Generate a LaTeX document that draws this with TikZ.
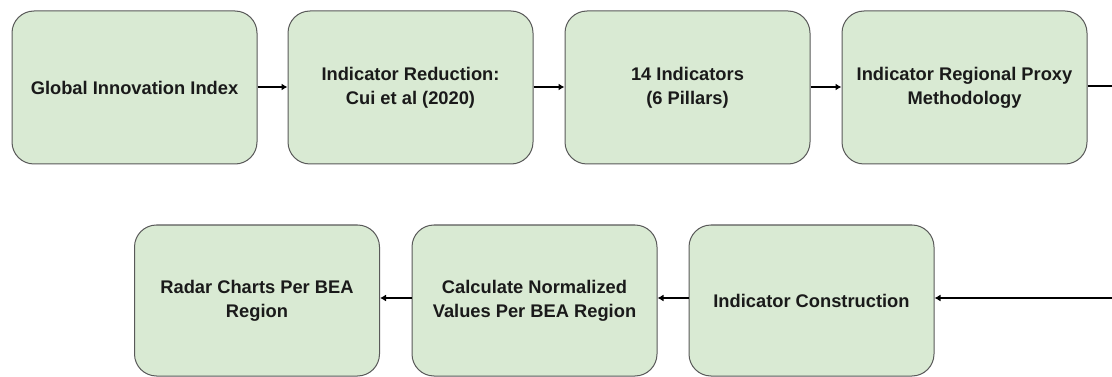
\documentclass[tikz,border=0pt]{standalone}
\usepackage{fontspec}
\setmainfont{Liberation Sans}
\usetikzlibrary{arrows.meta}
\definecolor{boxfill}{HTML}{D9EAD3}
\definecolor{boxline}{HTML}{595959}
\definecolor{txt}{HTML}{1A1A1A}
\tikzset{
  stepbox/.style={draw=boxline, line width=1pt, fill=boxfill, rounded corners=22pt,
    minimum width=245pt, align=center, text=txt,
    font=\fontsize{18.3}{24}\selectfont\bfseries, inner sep=0pt},
  toprow/.style={stepbox, minimum height=153pt},
  botrow/.style={stepbox, minimum height=151pt},
  conn/.style={line width=2pt, draw=black, -{Latex[length=6pt,width=7pt]}},
  plain/.style={line width=2pt, draw=black}
}
\begin{document}
\begin{tikzpicture}[x=1pt,y=-1pt]
\useasboundingbox (0,0) rectangle (1112,377);
\node[toprow] (a) at (134.5,87.5) {Global Innovation Index};
\node[toprow] (b) at (410.5,87.5) {Indicator Reduction:\\Cui et al (2020)};
\node[toprow] (c) at (687.5,87.5) {14 Indicators\\(6 Pillars)};
\node[toprow] (d) at (964.5,87.5) {Indicator Regional Proxy\\Methodology};
\node[botrow] (e) at (257,300.5) {Radar Charts Per BEA\\Region};
\node[botrow] (f) at (534.5,300.5) {Calculate Normalized\\Values Per BEA Region};
\node[botrow] (g) at (811.5,300.5) {Indicator Construction};
\coordinate (tline) at (0,87);
\coordinate (dout) at (1113,86);
\coordinate (gin) at (1113,298);
\draw[conn] (a.east |- tline) -- (b.west |- tline);
\draw[conn] (b.east |- tline) -- (c.west |- tline);
\draw[conn] (c.east |- tline) -- (d.west |- tline);
\draw[plain] (d.east |- dout) -- (dout);
\draw[conn] (gin) -- (g.east |- gin);
\draw[conn] (g.west |- gin) -- (f.east |- gin);
\draw[conn] (f.west |- gin) -- (e.east |- gin);
\end{tikzpicture}
\end{document}
